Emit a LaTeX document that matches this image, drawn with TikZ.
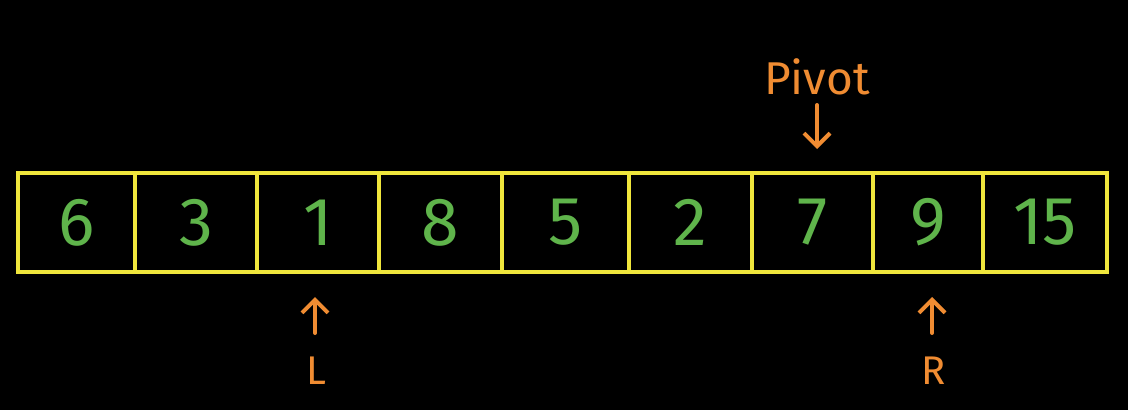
\documentclass[tikz,border=0pt]{standalone}
\usepackage{fontspec}
\setmainfont{Fira Sans}
\usetikzlibrary{arrows.meta}
\definecolor{boxyellow}{RGB}{240,230,60}
\definecolor{numgreen}{RGB}{95,180,75}
\definecolor{labelorange}{RGB}{240,140,50}
\tikzset{
  cell/.style={draw=boxyellow, line width=3.5pt, minimum height=99pt, inner sep=0pt,
    text=numgreen, font=\fontsize{68}{68}\selectfont},
  lbl/.style={text=labelorange, inner sep=0pt},
  ptr/.style={draw=labelorange, line width=4pt, line cap=round,
    -{Straight Barb[length=13pt,width=26pt,line width=4pt]}}
}
\begin{document}
\begin{tikzpicture}[x=1pt,y=-1pt]
\fill[black] (0,0) rectangle (1128,410);
\useasboundingbox (0,0) rectangle (1128,410);
\node[cell, minimum width=117pt] (c1) at (76.5,222.5) {6};
\node[cell, minimum width=122pt] (c2) at (196,222.5) {3};
\node[cell, minimum width=122pt] (c3) at (318,222.5) {1};
\node[cell, minimum width=123pt] (c4) at (440.5,222.5) {8};
\node[cell, minimum width=127pt] (c5) at (565.5,222.5) {5};
\node[cell, minimum width=123pt] (c6) at (690.5,222.5) {2};
\node[cell, minimum width=121pt] (c7) at (812.5,222.5) {7};
\node[cell, minimum width=110pt] (c8) at (928,222.5) {9};
\node[cell, minimum width=124pt] (c9) at (1045,222.5) {15};
\node[lbl, font=\fontsize{46}{46}\selectfont] (pivot) at (817,77) {Pivot};
\node[lbl, font=\fontsize{40}{40}\selectfont] (L) at (316,371) {L};
\node[lbl, font=\fontsize{40}{40}\selectfont] (R) at (934,371) {R};
\coordinate (pa) at (817,105);
\coordinate (pb) at (817,149);
\coordinate (la) at (315,333);
\coordinate (lb) at (315,297);
\coordinate (ra) at (932,333);
\coordinate (rb) at (932,297);
\draw[ptr] (pa) -- (pb);
\draw[ptr] (la) -- (lb);
\draw[ptr] (ra) -- (rb);
\end{tikzpicture}
\end{document}
